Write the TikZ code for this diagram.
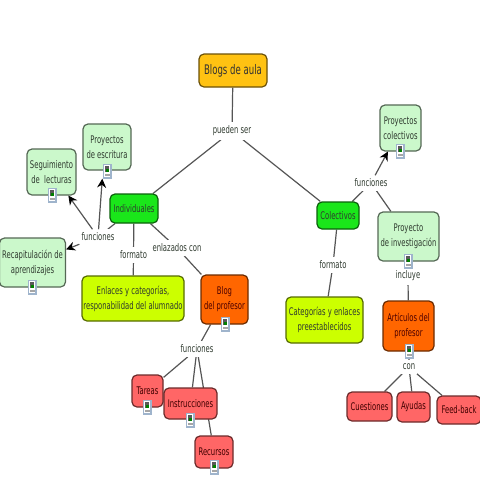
\documentclass[tikz,border=0pt]{standalone}
\usepackage{fontspec}
\setmainfont{DejaVu Sans}[FakeStretch=0.65]
\usetikzlibrary{arrows.meta,backgrounds}
\definecolor{txt}{HTML}{2F3A2F}
\definecolor{ln}{HTML}{555555}
\definecolor{icbg}{HTML}{9FB4CC}
\tikzset{
  x=1pt,y=-1pt,
  box/.style={rounded corners=5pt,line width=1.2pt,align=center,inner sep=0pt,font=\fontsize{10.5}{15}\selectfont,text=txt},
  sz/.style 2 args={minimum width=#1pt,minimum height=#2pt},
  top/.style={box,fill=#1,draw=#1!42!black},
  lab/.style={fill=white,inner xsep=2pt,inner ysep=3.5pt,font=\fontsize{10.5}{12}\selectfont,text=txt},
  edge/.style={draw=ln,line width=1.2pt},
  arr/.style={edge,-{Stealth[length=9pt,width=9pt,color=black]}},
  icon/.style={draw=none,fill=white,minimum width=9pt,minimum height=15pt,inner sep=0pt},
}
\definecolor{cgold}{HTML}{FFC212}
\definecolor{cgreen}{HTML}{1AE61A}
\definecolor{cpale}{HTML}{CBF8CB}
\definecolor{clime}{HTML}{CCFF00}
\definecolor{corange}{HTML}{FF6600}
\definecolor{cred}{HTML}{FF6666}
\newcommand{\ico}[2]{%
  \node[icon] (#1) at (#2) {};
  \fill[icbg] ([xshift=-4.5pt,yshift=7.5pt]#1.center) rectangle ([xshift=4.5pt,yshift=-7.5pt]#1.center);
  \fill[white] ([xshift=-3pt,yshift=6pt]#1.center) rectangle ([xshift=3pt,yshift=-6pt]#1.center);
  \fill[black!65] ([xshift=-2.5pt,yshift=5pt]#1.center) rectangle ([xshift=2pt,yshift=-1pt]#1.center);
  \fill[green!50!black] ([xshift=-1pt,yshift=2pt]#1.center) rectangle ([xshift=1.5pt,yshift=-1pt]#1.center);
  \fill[gray!70] ([xshift=-2.5pt,yshift=-2.5pt]#1.center) rectangle ([xshift=2.5pt,yshift=-5pt]#1.center);
}
\begin{document}
\begin{tikzpicture}
\useasboundingbox (0,0) rectangle (480,480);
\clip (0,0) rectangle (480,480);
% concept boxes
\node[top=cgold,sz={68}{33},font=\fontsize{13.2}{15}\selectfont,text=black!80] (blogs) at (233,70.5) {Blogs de aula};
\node[top=cgreen,sz={48}{29}] (indiv) at (134,208.5) {Individuales};
\node[top=cgreen,sz={42}{27}] (colec) at (338,215.5) {Colectivos};
\node[top=cpale,sz={48}{46}] (escr) at (107,147) {Proyectos\\de escritura};
\node[top=cpale,sz={49}{46}] (segu) at (51.5,172) {Seguimiento\\de\ \ lecturas};
\node[top=cpale,sz={66}{49}] (reca) at (32.5,262.5) {Recapitulación de\\aprendizajes};
\node[top=clime,sz={102}{45}] (enla) at (133,298.5) {Enlaces y categorías,\\responabilidad del alumnado};
\node[top=corange,sz={47}{49},text=black!70!red] (blog) at (224.5,299.5) {Blog\\del profesor};
\node[top=cpale,sz={41}{46}] (pcol) at (400.5,128) {Proyectos\\colectivos};
\node[top=cpale,sz={61}{49}] (pinv) at (408.5,236.5) {Proyecto\\de investigación};
\node[top=clime,sz={77}{46}] (cate) at (324.5,320) {Categorías y enlaces\\preestablecidos};
\node[top=corange,sz={51}{50},text=black!70!red] (arti) at (408.5,326) {Artículos del\\profesor};
\node[top=cred,sz={45}{29},text=black!75!red] (cues) at (369.5,406.5) {Cuestiones};
\node[top=cred,sz={33}{30},text=black!75!red] (ayud) at (413.5,407) {Ayudas};
\node[top=cred,sz={44}{28},text=black!75!red] (feed) at (459,410) {Feed-back};
\node[top=cred,sz={31}{32},text=black!75!red] (tare) at (147.5,391) {Tareas};
\node[top=cred,sz={53}{31},text=black!75!red] (inst) at (190.5,403.5) {Instrucciones};
\node[top=cred,sz={38}{32},text=black!75!red] (recu) at (214,452) {Recursos};
% linking phrases
\node[lab] (pue) at (232,131) {pueden ser};
\node[lab] (fa) at (98,237) {funciones};
\node[lab] (fo1) at (133.5,255) {formato};
\node[lab] (enl) at (177,248) {enlazados con};
\node[lab] (fb) at (197,349) {funciones};
\node[lab] (fo2) at (333,265) {formato};
\node[lab] (fc) at (371,183) {funciones};
\node[lab] (inc) at (408,276) {incluye};
\node[lab] (con) at (409,367) {con};
% resource icons
\ico{i1}{107,171}
\ico{i2}{52,195}
\ico{i3}{32,287}
\ico{i4}{225,324}
\ico{i5}{400,151}
\ico{i6}{408,261}
\ico{i7}{409,351}
\ico{i8}{147,407}
\ico{i9}{190,420}
\ico{i10}{214,467}
% connectors
\begin{pgfonlayer}{background}
\draw[edge] (blogs) -- (pue);
\draw[edge] (pue) -- (indiv);
\draw[edge] (pue) -- (colec);
\draw[edge] (indiv) -- (fa);
\draw[edge] (indiv) -- (fo1);
\draw[edge] (fo1) -- (enla);
\draw[edge] (indiv) -- (enl);
\draw[edge] (enl) -- (blog);
\draw[edge] (blog) -- (fb);
\draw[edge] (fb) -- (tare);
\draw[edge] (fb) -- (inst);
\draw[edge] (fb) -- (recu);
\draw[edge] (colec) -- (fo2);
\draw[edge] (fo2) -- (cate);
\draw[edge] (colec) -- (fc);
\draw[edge] (fc) -- (pinv);
\draw[edge] (pinv) -- (inc);
\draw[edge] (inc) -- (arti);
\draw[edge] (arti) -- (con);
\draw[edge] (con) -- (cues);
\draw[edge] (con) -- (ayud);
\draw[edge] (con) -- (feed);
\end{pgfonlayer}
\draw[arr] (fa) -- (segu);
\draw[arr] (fa) -- (i1.south west);
\draw[arr] (fa) -- (reca);
\draw[arr] (fc) -- (pcol);
\end{tikzpicture}
\end{document}
